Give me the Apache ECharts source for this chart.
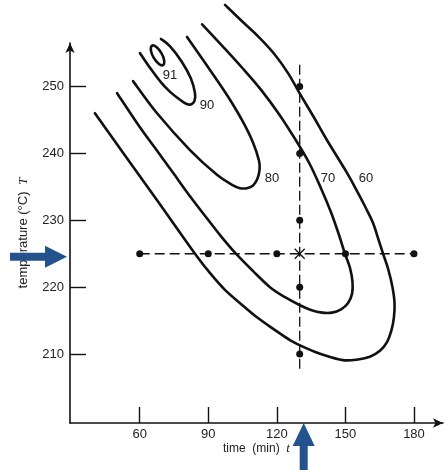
<!DOCTYPE html>
<html><head><meta charset="utf-8">
<script src="https://cdn.jsdelivr.net/npm/echarts@6/dist/echarts.min.js"></script>
<style>html,body{margin:0;padding:0;background:#fff}#c{width:446px;height:470px}</style>
</head><body><div id="c"></div>
<script>
// ---- data ----
const xTicks = [60, 90, 120, 150, 180];
const yTicks = [210, 220, 230, 240, 250];

const contourLevels = ['60', '70', '80', '90', '91'];
const contour60 = [[40.4,246.0],[52.7,240.1],[67.6,233.0],[84.2,225.0],[90.8,222.1],[97.3,219.6],[104.3,217.5],[111.3,215.5],[118.3,213.8],[125.7,212.1],[132.8,210.9],[140.2,209.9],[148.9,209.1],[155.5,209.2],[160.7,209.6],[165.1,210.5],[168.2,211.8],[170.1,213.5],[171.2,215.4],[171.5,217.6],[170.6,220.0],[168.8,222.6],[166.4,225.1],[164.2,227.4],[162.1,229.6],[159.0,231.8],[155.5,234.1],[150.7,237.1],[141.9,242.0],[136.2,245.4],[130.1,248.9],[124.9,252.0],[118.8,254.9],[111.8,257.5],[104.3,259.9],[97.3,262.2]];
const contour70 = [[50.1,249.0],[60.1,243.9],[67.6,240.4],[74.6,237.1],[82.0,233.6],[89.4,230.3],[95.6,227.6],[102.1,225.0],[109.6,222.4],[117.0,220.0],[123.6,218.5],[130.1,217.3],[134.9,216.6],[139.8,216.2],[144.1,216.2],[148.1,216.7],[151.1,217.6],[152.9,219.0],[153.1,220.8],[152.0,222.9],[149.8,225.0],[147.2,227.8],[143.7,231.2],[139.3,234.8],[134.1,238.6],[127.9,242.2],[120.9,245.9],[113.1,249.5],[104.8,252.8],[96.0,256.1],[87.3,259.3]];
const contour80 = [[57.1,250.8],[67.6,246.0],[82.0,240.5],[93.8,236.8],[100.4,235.3],[103.9,234.8],[106.9,234.8],[109.6,235.2],[111.5,236.2],[112.4,237.5],[112.2,238.9],[109.6,241.6],[105.2,244.7],[99.9,247.8],[94.3,250.7],[80.7,257.4]];
const contour90 = [[60.1,255.0],[64.9,252.6],[69.6,250.5],[73.3,249.2],[76.9,248.2],[79.4,247.6],[81.3,247.3],[82.9,247.4],[84.0,247.9],[84.2,249.0],[82.4,251.2],[78.4,253.7],[73.3,256.0],[69.3,257.1]];
const contour91 = [[70.2,253.2],[70.7,253.9],[69.5,255.0],[67.3,255.9],[65.4,256.1],[64.9,255.4],[66.1,254.3],[68.3,253.4]];
const labelPos = [[159.0,236.3],[142.4,236.3],[117.9,236.3],[89.4,247.1],[73.2,251.6]];

const designTimes = [60, 90, 120, 150, 180];   // at centre temperature
const designTemps = [210, 220, 230, 240, 250]; // at centre time
const centre = [130, 225];
const hLine = [[60, 225], [180, 225]];
const vLine = [[130, 207.8], [130, 253.6]];

// ---- chart ----
const FONT = '"Liberation Sans", Arial, Helvetica, sans-serif';
const SERIF = '"Liberation Serif", "DejaVu Serif", serif';
const chart = echarts.init(document.getElementById('c'), null, {renderer: 'canvas'});

// smooth Catmull-Rom path through the data points, projected by the axes
function contourSeries(data, closed) {
  return {
    type: 'custom', coordinateSystem: 'cartesian2d', data: data, silent: true, z: 3,
    encode: {x: 0, y: 1},
    renderItem: function (params, api) {
      if (params.dataIndex !== 0) return null;
      const p = data.map(d => api.coord(d));
      const n = p.length;
      const get = i => closed ? p[(i + n) % n] : p[Math.max(0, Math.min(n - 1, i))];
      let d = 'M' + p[0][0] + ' ' + p[0][1];
      const segs = closed ? n : n - 1;
      for (let i = 0; i < segs; i++) {
        const p0 = get(i - 1), p1 = get(i), p2 = get(i + 1), p3 = get(i + 2);
        const c1 = [p1[0] + (p2[0] - p0[0]) / 6, p1[1] + (p2[1] - p0[1]) / 6];
        const c2 = [p2[0] - (p3[0] - p1[0]) / 6, p2[1] - (p3[1] - p1[1]) / 6];
        d += 'C' + c1[0] + ' ' + c1[1] + ' ' + c2[0] + ' ' + c2[1] + ' ' + p2[0] + ' ' + p2[1];
      }
      if (closed) d += 'Z';
      return {type: 'path', shape: {pathData: d},
        style: {fill: null, stroke: '#111', lineWidth: 2.6, lineJoin: 'round', lineCap: 'round'}};
    }
  };
}

const option = {
  animation: false,
  backgroundColor: '#fff',
  grid: {left: 70, right: 3, top: 43, bottom: 47, containLabel: false},
  xAxis: {
    type: 'value', min: 29.5, max: 192.7,
    splitLine: {show: false},
    axisLine: {lineStyle: {color: '#111', width: 1.6}, symbol: ['none', 'arrow'], symbolSize: [7, 10]},
    axisTick: {inside: true, length: 16, lineStyle: {color: '#111', width: 1.4}, customValues: xTicks},
    axisLabel: {color: '#222', fontSize: 13, fontFamily: FONT, margin: 5, customValues: xTicks},
    name: '{a|time  (min)}  {b|t}', nameLocation: 'middle', nameGap: 19, nameMoveOverlap: false,
    nameTextStyle: {rich: {
      a: {fontFamily: FONT, fontSize: 12, color: '#222'},
      b: {fontFamily: SERIF, fontStyle: 'italic', fontSize: 13, color: '#222'}
    }}
  },
  yAxis: {
    type: 'value', min: 199.7, max: 256.5,
    splitLine: {show: false},
    axisLine: {lineStyle: {color: '#111', width: 1.6}, symbol: ['none', 'arrow'], symbolSize: [7, 10]},
    axisTick: {inside: true, length: 16, lineStyle: {color: '#111', width: 1.4}, customValues: yTicks},
    axisLabel: {color: '#222', fontSize: 13, fontFamily: FONT, margin: 6, customValues: yTicks},
    name: '{a|temperature (°C)}  {b|T}', nameLocation: 'middle', nameGap: 40, nameMoveOverlap: false,
    nameTextStyle: {rich: {
      a: {fontFamily: FONT, fontSize: 13, color: '#222'},
      b: {fontFamily: SERIF, fontStyle: 'italic', fontSize: 13, color: '#222'}
    }}
  },
  series: [
    contourSeries(contour60, false),
    contourSeries(contour70, false),
    contourSeries(contour80, false),
    contourSeries(contour90, false),
    contourSeries(contour91, true),
    {type: 'line', data: hLine, symbol: 'none', clip: false, silent: true,
      lineStyle: {color: '#111', width: 1.3, type: [10, 5]}, z: 2},
    {type: 'line', data: vLine, symbol: 'none', clip: false, silent: true,
      lineStyle: {color: '#111', width: 1.3, type: [10, 4]}, z: 2},
    {type: 'scatter', symbolSize: 7, itemStyle: {color: '#111', opacity: 1}, z: 4, silent: true,
      data: designTimes.map(t => [t, centre[1]]).concat(designTemps.map(T => [centre[0], T]))},
    {type: 'scatter', symbol: 'path://M0,0L10,10M10,0L0,10', symbolSize: 10, z: 5, silent: true,
      itemStyle: {color: 'none', borderColor: '#111', borderWidth: 1.3, opacity: 1}, data: [centre]},
    {type: 'custom', coordinateSystem: 'cartesian2d', data: labelPos, encode: {x: 0, y: 1}, silent: true, z: 6,
      renderItem: function (params, api) {
        const pt = api.coord([api.value(0), api.value(1)]);
        return {type: 'text', x: pt[0], y: pt[1],
          style: {text: contourLevels[params.dataIndex], fill: '#222', align: 'center', verticalAlign: 'middle',
            font: '13px ' + FONT}};
      }}
  ]
};
chart.setOption(option);

// decorative arrows pointing at the design centre
const c = chart.convertToPixel({gridIndex: 0}, centre);
const o = chart.convertToPixel({gridIndex: 0}, [29.5, 199.7]);
const blue = '#24528d';
const lt = [o[0] - 3, c[1] + 3];
const bt = [c[0] + 4, o[1]];
chart.setOption({graphic: [
  {type: 'polygon', z: 100, shape: {points: [
    [lt[0], lt[1]], [lt[0]-22, lt[1]-11], [lt[0]-22, lt[1]-4], [lt[0]-57, lt[1]-4],
    [lt[0]-57, lt[1]+4], [lt[0]-22, lt[1]+4], [lt[0]-22, lt[1]+11]]}, style: {fill: blue}},
  {type: 'polygon', z: 100, shape: {points: [
    [bt[0], bt[1]], [bt[0]+11, bt[1]+23], [bt[0]+4, bt[1]+23], [bt[0]+4, bt[1]+50],
    [bt[0]-4, bt[1]+50], [bt[0]-4, bt[1]+23], [bt[0]-11, bt[1]+23]]}, style: {fill: blue}}
]});
</script>
</body></html>
